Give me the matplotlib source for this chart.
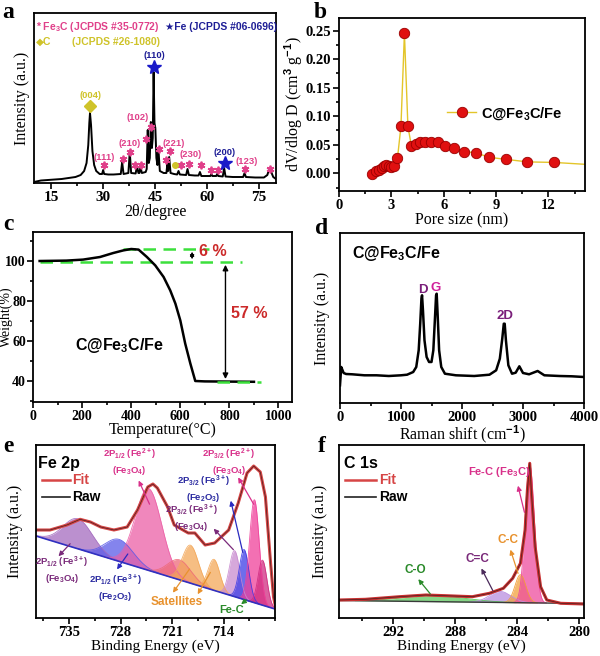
import numpy as np
import matplotlib.pyplot as plt
from matplotlib.ticker import MultipleLocator, FixedLocator

plt.rcParams['font.family'] = 'Liberation Serif'
plt.rcParams['font.weight'] = 'bold'
plt.rcParams['mathtext.fontset'] = 'custom'
plt.rcParams['mathtext.rm'] = 'Liberation Sans:bold'
plt.rcParams['mathtext.it'] = 'Liberation Sans:bold'
plt.rcParams['mathtext.bf'] = 'Liberation Sans:bold'
plt.rcParams['axes.linewidth'] = 1.3
SANS = ['Liberation Sans', 'DejaVu Sans']

# ---- (a) XRD ----
xrd_2theta = [10, 12, 14, 16, 18, 20, 22, 23.5, 24.5, 25.2, 25.7, 26.0, 26.2, 26.5, 26.9, 27.4,
              28.0, 29.0, 29.7, 30.0, 30.3, 31.5, 33, 35.1, 35.5, 35.9, 37.3, 37.7, 38.1, 39.4,
              39.8, 40.2, 40.5, 40.8, 41.2, 42.3, 42.6, 42.9, 43.2, 43.5, 43.8, 44.1, 44.35, 44.6,
              44.85, 45.1, 45.4, 45.7, 46.0, 46.4, 47.5, 48.3, 48.6, 48.8, 49.1, 49.5, 50.5, 51.4,
              51.8, 52.2, 54.0, 54.4, 54.8, 56.5, 57.6, 58.0, 58.4, 61.0, 61.3, 61.6, 62.7, 63.0,
              63.3, 64.6, 65.0, 65.4, 67.5, 70.5, 70.9, 71.3, 74, 76.5, 77.5, 78.0, 78.5, 79.2, 80]
xrd_int = [1, 2.5, 3, 3.5, 4, 5, 6, 8, 12, 20, 38, 60, 70, 58, 32, 18,
           12, 9, 9, 13, 9, 8.5, 8.5, 9, 21, 9, 10, 31, 10, 9.5,
           17, 10, 10, 16, 10, 11, 14, 53, 20, 25, 61, 35, 45, 111,
           60, 55, 25, 18, 33, 12, 10, 10, 20, 12, 26, 10, 9, 8.5,
           12, 8.5, 8, 14, 8, 7.5, 7.5, 11, 7, 7, 9, 7, 7, 9,
           7, 6.5, 15, 6.5, 6, 6, 10, 6, 5.5, 5.5, 8, 14, 12, 6, 4]
fe3c_star_x = [30.3, 35.8, 37.8, 39.3, 41.0, 42.5, 43.7, 46.3, 48.3, 49.2, 52.4, 54.7, 58.2, 61.1, 63.2, 71.1, 78.4]
fe3c_star_y = [18, 24, 31, 18, 18, 44, 56, 34, 23, 32, 18, 19, 18, 13, 13, 14, 14]
fe_star_x = [44.6, 65.3]
fe_star_y = [116, 20]
c_mark_x = [26.2, 50.9]
c_mark_y = [77, 18]
hkl_text = ['(111)', '(210)', '(102)', '(221)', '(230)', '(123)', '(004)', '(110)', '(200)']
hkl_x = [30.3, 37.8, 40.0, 50.3, 55.2, 71.4, 26.2, 44.9, 65.2]
hkl_y = [26, 40, 66, 40, 29, 22, 88, 128, 31]
hkl_col = ['pink'] * 6 + ['yellow', 'navy', 'navy']

# ---- (b) pore size ----
pore_d = [1.9, 2.1, 2.3, 2.45, 2.6, 2.7, 2.85, 3.0, 3.15, 3.35, 3.55, 3.75, 3.95, 4.15, 4.4,
          4.65, 4.95, 5.3, 5.65, 6.1, 6.6, 7.15, 7.85, 8.6, 9.55, 10.8, 12.35]
pore_v = [-0.001, 0.004, 0.006, 0.009, 0.012, 0.015, 0.012, 0.011, 0.013, 0.026, 0.082, 0.245,
          0.082, 0.048, 0.051, 0.054, 0.054, 0.055, 0.054, 0.047, 0.044, 0.038, 0.036, 0.028,
          0.0245, 0.020, 0.019]
pore_tail_d = [12.35, 14.5]
pore_tail_v = [0.019, 0.015]

# ---- (c) TGA ----
tga_t = [27, 136, 204, 273, 327, 368, 400, 430, 464, 498, 532, 559, 580, 600, 620, 641, 661, 700, 800, 900]
tga_w = [100, 100.2, 100.7, 102, 104, 105.3, 106, 105.7, 102, 97.8, 92, 85.3, 78.7, 70.3, 58.7, 48.7, 40, 39.8, 39.7, 39.6]

# ---- (d) Raman ----
raman_shift = [0, 20, 40, 60, 100, 200, 400, 600, 800, 1000, 1100, 1200, 1250, 1290, 1315, 1335,
               1345, 1360, 1385, 1420, 1460, 1500, 1530, 1555, 1575, 1585, 1600, 1625, 1660, 1720,
               1900, 2200, 2450, 2560, 2620, 2660, 2685, 2700, 2720, 2760, 2820, 2880, 2940, 3000,
               3100, 3240, 3350, 3600, 3800, 4000]
raman_int = [17.7, 36, 33, 30, 29, 28.7, 27.7, 27.7, 27, 27.7, 28.3, 31, 36, 52.7, 79.3, 104.3,
             107.7, 92.7, 62.7, 46, 41, 41, 52.7, 82.7, 107.7, 109.3, 89.3, 52.7, 36, 29.3,
             27.7, 27, 28.3, 32.7, 44.3, 64.3, 79.3, 79.3, 62.7, 37.7, 29.3, 30.3, 36.7, 30,
             28.7, 32, 27.7, 27, 26.7, 26]

# ---- (e) Fe 2p XPS ----
fe_env_be = [739.5, 737.6, 735.3, 733.5, 732.1, 730.7, 728.9, 727.1, 725.7, 724.3, 723.6, 723.0,
             721.6, 720.7, 718.8, 717.9, 716.5, 715.2, 713.3, 712.0, 710.8, 709.9, 709.0, 708.3,
             707.6, 707.2, 706.9]
fe_env_int = [88, 88, 93, 98.7, 96, 91, 88, 91, 108, 131, 134, 130, 111, 93, 85, 85, 73, 75, 88,
              115, 145, 152, 146, 121, 55, 21, 10]
fe_bg_be = [739.5, 707.0]
fe_bg_int = [82, 9]
fe_centers = [733.8, 728.2, 724.2, 720.0, 718.5, 715.3, 712.5, 711.2, 709.8, 708.7]
fe_heights = [30, 22, 82, 20, 38, 31, 46, 50, 103, 45]
fe_sigmas = [2.0, 1.9, 1.8, 1.6, 1.1, 0.8, 0.7, 0.65, 0.65, 0.6]
fe_colors = ['#A46BBF', '#5B5BE8', '#EC5FA6', '#EE6A78', '#F3A85A', '#F3A85A',
             '#C98BD0', '#3C3CE6', '#F0409A', '#D02C80']

# ---- (f) C 1s XPS ----
c_env_be = [295.5, 293.8, 291.6, 289.9, 288.6, 286.9, 285.8, 284.9, 284.3, 283.8, 283.5, 283.35,
            283.2, 283.1, 282.85, 282.5, 282.1, 281.2, 279.7]
c_env_int = [18, 18.7, 21.3, 23, 22.3, 21.3, 24.7, 29.7, 39.7, 54.7, 88, 128, 154.7, 128, 71,
             31.3, 18, 14.7, 14]
c_bg_be = [295.5, 279.7]
c_bg_int = [17.5, 14.5]
c_centers = [289.3, 285.1, 283.8, 283.2]
c_heights = [6, 11, 28, 138]
c_sigmas = [2.0, 0.7, 0.35, 0.3]
c_colors = ['#5DC85D', '#B98FE0', '#F2A03C', '#EE4C9E']


def gauss(x, c, h, s):
    return h * np.exp(-0.5 * ((x - c) / s) ** 2)


def style(ax, ylab_x, fs=10.5):
    ax.tick_params(which='both', direction='out', top=False, right=False, width=1.2,
                   labelsize=fs, pad=2)
    ax.tick_params(which='major', length=4)
    ax.tick_params(which='minor', length=2.5)
    # ylab_x is the right edge of the rotated y label
    ax.yaxis.set_label_coords(ylab_x, 0.5)


PINK = '#E0408A'
NAVY = '#1E1E96'
YEL = '#CFC32A'
cmap = {'pink': PINK, 'navy': NAVY, 'yellow': YEL}
LAB = 11.5

fig = plt.figure(figsize=(6, 6.56), dpi=100)

# ---------------- a ----------------
ax = fig.add_axes([34/600, 1 - 183/656, 242/600, 170/656])
ax.plot(xrd_2theta, xrd_int, color='k', lw=1.4)
ax.plot(fe3c_star_x, fe3c_star_y, ls='none', marker=(6, 2, 0), ms=5.5, mew=1.3, color=PINK)
ax.plot(fe_star_x, fe_star_y, ls='none', marker='*', ms=10, color='#1A1AC8')
ax.plot(c_mark_x[:1], c_mark_y[:1], ls='none', marker='D', ms=6, color=YEL)
ax.plot(c_mark_x[1:], c_mark_y[1:], ls='none', marker='o', ms=4, color=YEL)
for t, x, y, c in zip(hkl_text, hkl_x, hkl_y, hkl_col):
    ax.text(x, y, t, color=cmap[c], fontsize=6.8, family=SANS, ha='center', va='center')
ax.text(10.7, 156, '* Fe$_3$C (JCPDS #35-0772)', color=PINK, fontsize=7.5, family=SANS, va='center')
ax.text(48.0, 156, '\u2605Fe (JCPDS #06-0696)', color=NAVY, fontsize=7.5, family=SANS, va='center')
ax.text(10.7, 141, '\u25c6C', color=YEL, fontsize=7.5, family=SANS, va='center')
ax.text(20.9, 141, '(JCPDS #26-1080)', color=YEL, fontsize=7.5, family=SANS, va='center')
ax.set_xlim(10, 80)
ax.set_ylim(0, 170)
ax.set_yticks([])
ax.xaxis.set_major_locator(MultipleLocator(15))
ax.xaxis.set_minor_locator(MultipleLocator(7.5))
ax.set_xlabel('2\u03b8/degree', fontsize=LAB, labelpad=0)
ax.set_ylabel('Intensity (a.u.)', fontsize=LAB)
style(ax, -0.017, 11)

# ---------------- b ----------------
ax = fig.add_axes([339/600, 1 - 191/656, 246/600, 173/656])
ax.plot(pore_tail_d, pore_tail_v, color='#E3C52A', lw=1)
ax.plot(pore_d, pore_v, color='#E3C52A', lw=1, marker='o', ms=7.5, mfc='#E01010',
        mec='#9A0000', mew=0.6, label='C@Fe$_3$C/Fe')
ax.legend(loc='center left', bbox_to_anchor=(0.44, 0.45), frameon=False, handlelength=2.0,
          handletextpad=0.3, borderpad=0, borderaxespad=0,
          prop={'family': SANS, 'weight': 'bold', 'size': 10.5})
ax.set_xlim(0, 14.1)
ax.set_ylim(-0.031, 0.272)
ax.xaxis.set_major_locator(MultipleLocator(3))
ax.xaxis.set_minor_locator(MultipleLocator(1.5))
ax.yaxis.set_major_locator(MultipleLocator(0.05))
ax.yaxis.set_minor_locator(MultipleLocator(0.025))
ax.yaxis.set_major_formatter(plt.FormatStrFormatter('%.2f'))
ax.set_xlabel('Pore size (nm)', fontsize=LAB, labelpad=0)
ax.set_ylabel('dV/dlog D (cm$^3$ g$^{-1}$)', fontsize=LAB)
style(ax, -0.138)

# ---------------- c ----------------
ax = fig.add_axes([33/600, 1 - 402/656, 259/600, 170/656])
GREEN = '#3CE03C'
ax.plot([368, 716], [106, 106], color=GREEN, lw=1.8, ls=(0, (5, 3)))
ax.plot([27, 852], [99.5, 99.5], color=GREEN, lw=1.8, ls=(0, (5, 3)))
ax.plot(tga_t, tga_w, color='k', lw=1.8)
ax.plot([750, 927], [39.6, 39.6], color=GREEN, lw=1.8, ls=(0, (5, 3)))
ax.annotate('', xy=(648, 106), xytext=(648, 99.5),
            arrowprops=dict(arrowstyle='<|-|>', color='k', lw=0.8, mutation_scale=6))
ax.annotate('', xy=(784, 99.5), xytext=(784, 39.6),
            arrowprops=dict(arrowstyle='<|-|>', color='k', lw=1.0, mutation_scale=8))
ax.text(675, 104.5, '6 %', color='#CC2A2A', fontsize=11.5, family=SANS, va='center')
ax.text(808, 74, '57 %', color='#CC2A2A', fontsize=11.5, family=SANS, va='center')
ax.text(171, 57.8, 'C@Fe$_3$C/Fe', color='k', fontsize=11.5, family=SANS, va='center')
ax.set_xlim(0, 1055)
ax.set_ylim(29.5, 114.5)
ax.xaxis.set_major_locator(MultipleLocator(200))
ax.xaxis.set_minor_locator(MultipleLocator(100))
ax.yaxis.set_major_locator(MultipleLocator(20))
ax.yaxis.set_minor_locator(MultipleLocator(10))
ax.set_xlabel('Temperature(\u00b0C)', fontsize=LAB, labelpad=-1)
ax.set_ylabel('Weight(%)', fontsize=10)
style(ax, -0.077, 10)
ax.tick_params(axis='y', pad=1)

# ---------------- d ----------------
ax = fig.add_axes([340/600, 1 - 403/656, 244/600, 170/656])
ax.plot(raman_shift, raman_int, color='k', lw=1.8)
ax.text(1353, 112.7, 'D', color='#7A1F7A', fontsize=9.5, family=SANS, ha='center', va='center')
ax.text(1571, 115.3, 'G', color='#D0209A', fontsize=9.5, family=SANS, ha='center', va='center')
ax.text(2700, 86.7, '2D', color='#7A1F7A', fontsize=9.5, family=SANS, ha='center', va='center')
ax.text(191, 149.3, 'C@Fe$_3$C/Fe', color='k', fontsize=11.5, family=SANS, va='center')
ax.set_xlim(0, 4000)
ax.set_ylim(0, 170)
ax.set_yticks([])
ax.xaxis.set_major_locator(MultipleLocator(1000))
ax.xaxis.set_minor_locator(MultipleLocator(500))
ax.set_xlabel('Raman shift (cm$^{-1}$)', fontsize=LAB, labelpad=-1)
ax.set_ylabel('Intensity (a.u.)', fontsize=LAB)
style(ax, -0.041)

# ---------------- e ----------------
ax = fig.add_axes([36/600, 1 - 618/656, 239/600, 173/656])
xe = np.linspace(707.0, 739.5, 700)
bge = np.interp(xe, fe_bg_be[::-1], fe_bg_int[::-1])
for c, h, s, col in zip(fe_centers, fe_heights, fe_sigmas, fe_colors):
    g = gauss(xe, c, h, s)
    m = g > 0.3
    ax.fill_between(xe[m], bge[m], bge[m] + g[m], color=col, alpha=0.75, lw=0)
    ax.plot(xe[m], bge[m] + g[m], color=col, lw=0.6, alpha=0.9)
ax.plot(fe_bg_be, fe_bg_int, color='#3030C0', lw=1.2)
ax.plot(fe_env_be, fe_env_int, color='#D64545', lw=2.2)
ax.plot(fe_env_be, fe_env_int, color='#4A2020', lw=0.5)
ax.text(739.2, 154.7, 'Fe 2p', fontsize=11.5, family=SANS, va='center')
ax.plot([738.7, 734.9], [138, 138], color='#D64545', lw=1.8)
ax.text(734.6, 138, 'Fit', color='#D64545', fontsize=10, family=SANS, va='center')
ax.plot([738.7, 734.9], [121.3, 121.3], color='#222222', lw=1.2)
ax.text(734.6, 121.3, 'Raw', color='k', fontsize=10, family=SANS, va='center')
e_labels = [
    ('2P$_{1/2}$ (Fe$^{2+}$)\n(Fe$_3$O$_4$)', 726.8, 156, '#D8308A'),
    ('2P$_{3/2}$ (Fe$^{2+}$)\n(Fe$_3$O$_4$)', 713.3, 156, '#D8308A'),
    ('2P$_{3/2}$ (Fe$^{3+}$)\n(Fe$_2$O$_3$)', 716.7, 129, '#2A2AA0'),
    ('2P$_{3/2}$ (Fe$^{3+}$)\n(Fe$_3$O$_4$)', 718.4, 100, '#7A2A7A'),
    ('2P$_{1/2}$ (Fe$^{3+}$)\n(Fe$_3$O$_4$)', 736.0, 48, '#7A2A7A'),
    ('2P$_{1/2}$ (Fe$^{3+}$)\n(Fe$_2$O$_3$)', 728.7, 30.5, '#2A2AA0'),
]
for t, x, y, c in e_labels:
    ax.text(x, y, t, color=c, fontsize=6.8, family=SANS, ha='center', va='center',
            linespacing=1.2)
ax.text(720.4, 16.3, 'Satellites', color='#E8922E', fontsize=8.5, family=SANS, ha='center', va='center')
ax.text(712.9, 8, 'Fe-C', color='#2A8A2A', fontsize=8, family=SANS, ha='center', va='center')
e_arrows = [
    ((736.7, 59.7), (734.6, 76.3), '#7A2A7A'),
    ((728.7, 46.3), (726.8, 66.3), '#2A2AC0'),
    ((725.7, 140), (723.9, 111.3), '#D8308A'),
    ((712.2, 143), (709.7, 111.3), '#D8308A'),
    ((713.1, 120), (711.3, 63), '#2A2AC0'),
    ((715.6, 91.3), (712.4, 66.3), '#7A2A7A'),
    ((721.1, 23), (718.4, 51.3), '#E8922E'),
    ((717.7, 21.3), (715.6, 48), '#E8922E'),
    ((711.9, 12), (710.6, 19.7), '#2A8A2A'),
]
for head, tail, c in e_arrows:
    ax.annotate('', xy=head, xytext=tail,
                arrowprops=dict(arrowstyle='-|>', color=c, lw=0.9, mutation_scale=7))
ax.set_xlim(739.5, 707.0)
ax.set_ylim(0, 173)
ax.set_yticks([])
ax.xaxis.set_major_locator(FixedLocator([735, 728, 721, 714]))
ax.xaxis.set_minor_locator(MultipleLocator(3.5))
ax.set_xlabel('Binding Energy (eV)', fontsize=11, labelpad=0)
ax.set_ylabel('Intensity (a.u.)', fontsize=LAB)
style(ax, -0.054)

# ---------------- f ----------------
ax = fig.add_axes([339/600, 1 - 618/656, 245/600, 173/656])
xf = np.linspace(279.7, 295.5, 700)
bgf = np.interp(xf, c_bg_be[::-1], c_bg_int[::-1])
for c, h, s, col in zip(c_centers, c_heights, c_sigmas, c_colors):
    g = gauss(xf, c, h, s)
    m = g > 0.2
    ax.fill_between(xf[m], bgf[m], bgf[m] + g[m], color=col, alpha=0.75, lw=0)
    ax.plot(xf[m], bgf[m] + g[m], color=col, lw=0.6)
ax.plot(c_bg_be, c_bg_int, color='#3A3A3A', lw=1.0)
ax.plot(c_env_be, c_env_int, color='#C83030', lw=2.2)
ax.plot(c_env_be, c_env_int, color='#4A2020', lw=0.5)
ax.text(295.2, 154.7, 'C 1s', fontsize=11.5, family=SANS, va='center')
ax.plot([295.1, 293.1], [138, 138], color='#D64545', lw=1.8)
ax.plot([295.1, 293.1], [121.3, 121.3], color='#222222', lw=1.2)
ax.text(292.9, 138, 'Fit', color='#D64545', fontsize=10, family=SANS, va='center')
ax.text(292.9, 121.3, 'Raw', color='k', fontsize=10, family=SANS, va='center')
ax.text(285.2, 146, 'Fe-C (Fe$_3$C)', color='#D8308A', fontsize=8, family=SANS, ha='center', va='center')
ax.text(284.6, 78, 'C-C', color='#E8922E', fontsize=8.5, family=SANS, ha='center', va='center')
ax.text(286.6, 59, 'C=C', color='#7A2A7A', fontsize=8.5, family=SANS, ha='center', va='center')
ax.text(290.6, 48, 'C-O', color='#2A8A2A', fontsize=8.5, family=SANS, ha='center', va='center')
f_arrows = [
    ((284.0, 135), (283.5, 103), '#D8308A'),
    ((284.5, 71), (283.9, 42), '#E8922E'),
    ((286.4, 52), (285.5, 25), '#4A2A5A'),
    ((290.5, 41), (289.5, 22), '#2A8A2A'),
]
for head, tail, c in f_arrows:
    ax.annotate('', xy=head, xytext=tail,
                arrowprops=dict(arrowstyle='-|>', color=c, lw=0.9, mutation_scale=7))
ax.set_xlim(295.5, 279.7)
ax.set_ylim(0, 173)
ax.set_yticks([])
ax.xaxis.set_major_locator(MultipleLocator(4))
ax.xaxis.set_minor_locator(MultipleLocator(2))
ax.set_xlabel('Binding Energy (eV)', fontsize=11, labelpad=0)
ax.set_ylabel('Intensity (a.u.)', fontsize=LAB)
style(ax, -0.045)

# panel letters
for s, x, y in [('a', 8, 12), ('b', 320, 12), ('c', 8, 225), ('d', 322, 228), ('e', 8, 447), ('f', 322, 447)]:
    fig.text(x / 600, 1 - y / 656, s, fontsize=17, fontweight='bold', ha='center', va='center')

fig.savefig('out.png', dpi=100)
